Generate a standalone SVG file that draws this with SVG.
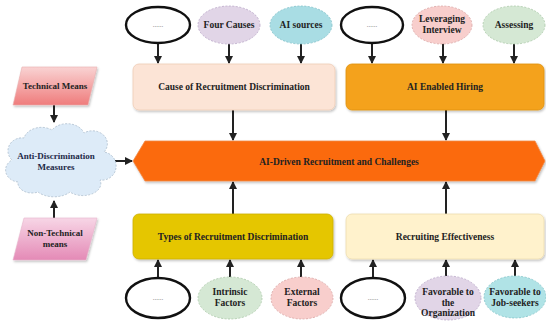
<svg xmlns="http://www.w3.org/2000/svg" width="546" height="328" viewBox="0 0 546 328">
<style>
  text { font-family: "Liberation Serif", "Times New Roman", serif; font-weight: bold; font-size: 9.5px; fill: #222; text-anchor: middle; }
  .dots { font-size: 7px; font-weight: normal; fill: #777; }
  .blank { fill: #fff; stroke: #111; stroke-width: 2.4; }
  .soft { stroke-width: 0.8; stroke-dasharray: 2 1.5; }
  .box { stroke-width: 0.8; filter: url(#sh); }
  .conn line { stroke: #222; stroke-width: 2; marker-end: url(#arr); }
</style>
<defs>
  <marker id="arr" markerUnits="userSpaceOnUse" markerWidth="9" markerHeight="9" refX="7" refY="4" orient="auto">
    <path d="M0,0 L8,4 L0,8 z" fill="#222"/>
  </marker>
  <filter id="sh" x="-10%" y="-20%" width="120%" height="150%">
    <feDropShadow dx="1" dy="1.5" stdDeviation="1.2" flood-color="#000" flood-opacity="0.25"/>
  </filter>
  <linearGradient id="gTech" x1="0" y1="0" x2="0" y2="1">
    <stop offset="0" stop-color="#F9D3D3"/>
    <stop offset="1" stop-color="#EF7C7C"/>
  </linearGradient>
  <linearGradient id="gNon" x1="0" y1="0" x2="0" y2="1">
    <stop offset="0" stop-color="#F7D6E6"/>
    <stop offset="1" stop-color="#E48AB6"/>
  </linearGradient>
</defs>

<g id="connectors" class="conn">
  <line x1="158" y1="43" x2="158" y2="63"/>
  <line x1="229" y1="43" x2="229" y2="63"/>
  <line x1="301" y1="43" x2="301" y2="63"/>
  <line x1="372" y1="43" x2="372" y2="63"/>
  <line x1="443" y1="43" x2="443" y2="63"/>
  <line x1="514" y1="43" x2="514" y2="63"/>
  <line x1="233" y1="110" x2="233" y2="140"/>
  <line x1="446" y1="110" x2="446" y2="140"/>
  <line x1="112" y1="161" x2="132" y2="161"/>
  <line x1="233" y1="214" x2="233" y2="182"/>
  <line x1="446" y1="214" x2="446" y2="182"/>
  <line x1="158" y1="277" x2="158" y2="260"/>
  <line x1="230" y1="277" x2="230" y2="260"/>
  <line x1="301" y1="277" x2="301" y2="260"/>
  <line x1="373" y1="277" x2="373" y2="260"/>
  <line x1="446" y1="276" x2="446" y2="260"/>
  <line x1="515" y1="276" x2="515" y2="260"/>
  <line x1="54" y1="105" x2="54" y2="122"/>
  <line x1="54" y1="218" x2="54" y2="201"/>
</g>

<g id="n-top-blank1"><ellipse class="blank" cx="158" cy="25" rx="32" ry="18"/><text class="dots" x="158" y="27">......</text></g>
<g id="n-four-causes"><ellipse class="soft" cx="229" cy="25" rx="31" ry="19" fill="#E1D5E7" stroke="#B9A6C6"/><text x="229" y="28">Four Causes</text></g>
<g id="n-ai-sources"><ellipse class="soft" cx="301" cy="25" rx="31" ry="19" fill="#A9DDE4" stroke="#7FBFC8"/><text x="301" y="28">AI sources</text></g>
<g id="n-top-blank2"><ellipse class="blank" cx="372" cy="25" rx="31" ry="18"/><text class="dots" x="372" y="27">......</text></g>
<g id="n-leveraging"><ellipse class="soft" cx="442" cy="25" rx="30" ry="19" fill="#F8CECC" stroke="#D9A5A3"/><text x="442" y="22">Leveraging</text><text x="442" y="33">Interview</text></g>
<g id="n-assessing"><ellipse class="soft" cx="514" cy="25" rx="31" ry="19" fill="#D5E8D4" stroke="#A9C8A7"/><text x="514" y="28">Assessing</text></g>

<g id="n-cause"><rect class="box" x="133" y="64" width="202" height="46" rx="6" fill="#FCE4D6" stroke="#EFCDB6"/><text x="234" y="90">Cause of Recruitment Discrimination</text></g>
<g id="n-ai-hiring"><rect class="box" x="346" y="64" width="198" height="46" rx="6" fill="#F4A21C" stroke="#E0900E"/><text x="445" y="90">AI Enabled Hiring</text></g>

<g id="n-central"><path d="M145,141 L535,141 L545,161 L535,181 L145,181 L133,161 Z" fill="#FB6A0A" stroke="#F08A4A" stroke-width="0.8" filter="url(#sh)"/><text x="339" y="164.5">AI-Driven Recruitment and Challenges</text></g>

<g id="n-types"><rect class="box" x="133" y="214" width="200" height="45" rx="6" fill="#E5C600" stroke="#CDB000"/><text x="233" y="239.5">Types of Recruitment Discrimination</text></g>
<g id="n-effectiveness"><rect class="box" x="346" y="214" width="198" height="45" rx="6" fill="#FFF2CC" stroke="#EDDDB0"/><text x="445" y="239.5">Recruiting Effectiveness</text></g>

<g id="n-bot-blank1"><ellipse class="blank" cx="158" cy="298" rx="32" ry="20"/><text class="dots" x="158" y="300">......</text></g>
<g id="n-intrinsic"><ellipse class="soft" cx="230" cy="298" rx="32" ry="21" fill="#D5E8D4" stroke="#A9C8A7"/><text x="230" y="295">Intrinsic</text><text x="230" y="306">Factors</text></g>
<g id="n-external"><ellipse class="soft" cx="302" cy="298" rx="31" ry="21" fill="#F8CECC" stroke="#D9A5A3"/><text x="302" y="295">External</text><text x="302" y="306">Factors</text></g>
<g id="n-bot-blank2"><ellipse class="blank" cx="373" cy="298" rx="32" ry="20"/><text class="dots" x="373" y="300">......</text></g>
<g id="n-fav-org"><ellipse class="soft" cx="448" cy="298" rx="33" ry="22" fill="#E1D5E7" stroke="#B9A6C6"/><text x="448" y="295">Favorable to</text><text x="448" y="305.5">the</text><text x="448" y="316">Organization</text></g>
<g id="n-fav-job"><ellipse class="soft" cx="515" cy="297" rx="31" ry="21" fill="#B0E3E6" stroke="#82C3C8"/><text x="515" y="295">Favorable to</text><text x="515" y="306">Job-seekers</text></g>

<g id="n-technical"><path d="M22,67 L97,67 L88,105 L13,105 Z" fill="url(#gTech)" stroke="#E9B0B0" stroke-width="0.6" filter="url(#sh)"/><text x="55" y="89" style="font-size:9px">Technical Means</text></g>
<g id="n-anti"><path d="M18,182 A14,12 0 0 1 12,160 A14,13 0 0 1 24,138 A18,14 0 0 1 52,130 A18,14 0 0 1 84,133 A15,13 0 0 1 104,152 A13,13 0 0 1 100,180 A18,12 0 0 1 70,192 A20,12 0 0 1 38,192 A14,10 0 0 1 18,182 Z" fill="#DDEBF8" stroke="#A9BBCC" stroke-width="0.8" stroke-dasharray="2 1.5"/><text x="56" y="159" style="font-size:9px;fill:#1E2A48">Anti-Discrimination</text><text x="56" y="170" style="font-size:9px;fill:#1E2A48">Measures</text></g>
<g id="n-nontechnical"><path d="M24,218 L97,218 L86,260 L13,260 Z" fill="url(#gNon)" stroke="#E8B6CC" stroke-width="0.6" filter="url(#sh)"/><text x="55" y="236" style="font-size:9px">Non-Technical</text><text x="55" y="247" style="font-size:9px">means</text></g>
</svg>
